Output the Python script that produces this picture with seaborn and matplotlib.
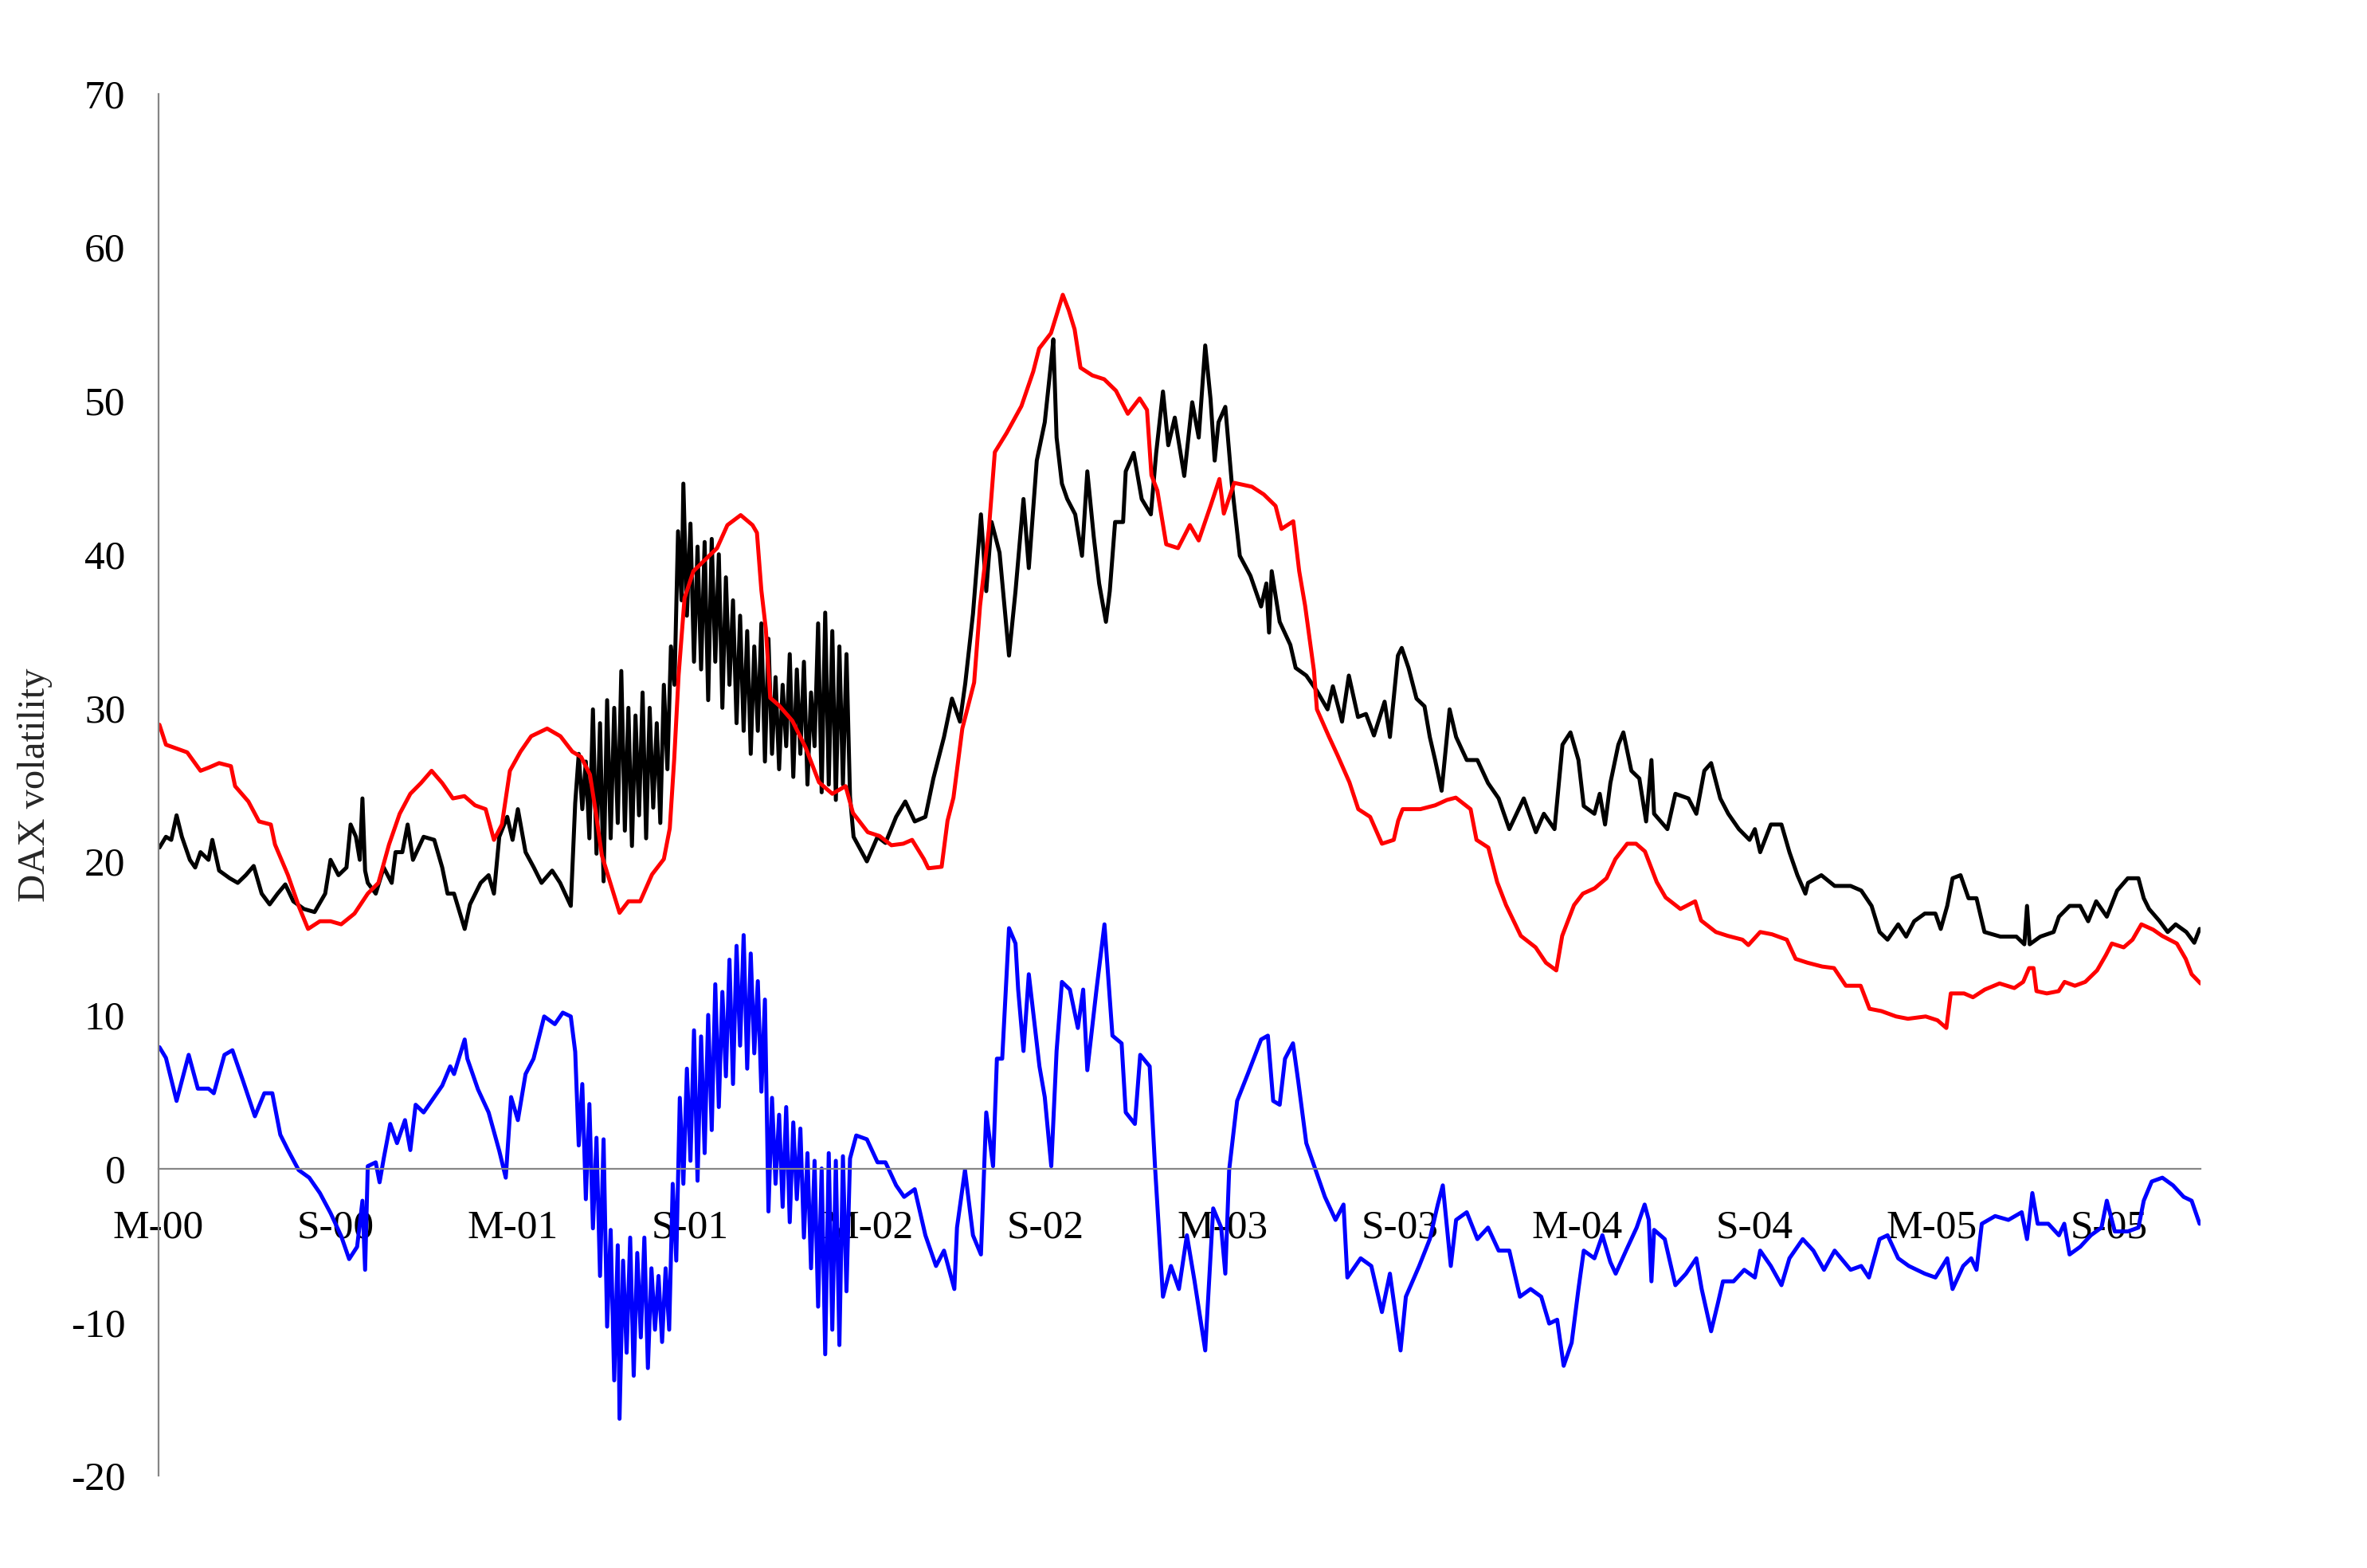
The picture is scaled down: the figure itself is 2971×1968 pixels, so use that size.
import pandas as pd
import matplotlib.pyplot as plt
import seaborn as sns

# x = months since March 2000
tick_pos = [0, 6, 12, 18, 24, 30, 36, 42, 48, 54, 60, 66]
tick_labels = ['M-00', 'S-00', 'M-01', 'S-01', 'M-02', 'S-02',
               'M-03', 'S-03', 'M-04', 'S-04', 'M-05', 'S-05']
y_ticks = [-20, -10, 0, 10, 20, 30, 40, 50, 60, 70]

# black series (implied volatility)
black_pts = [
    (0.03, 20.9), (0.25, 21.6), (0.43, 21.4), (0.61, 23.0), (0.79, 21.6), (1.06, 20.1),
    (1.24, 19.6), (1.42, 20.6), (1.69, 20.1), (1.82, 21.4), (2.05, 19.4), (2.41, 18.9),
    (2.68, 18.6), (2.95, 19.1), (3.22, 19.7), (3.49, 17.9), (3.76, 17.2), (4.03, 17.9),
    (4.29, 18.5), (4.56, 17.4), (4.92, 16.9), (5.28, 16.7), (5.64, 17.9), (5.82, 20.1),
    (6.09, 19.1), (6.36, 19.6), (6.50, 22.4), (6.68, 21.6), (6.81, 20.1), (6.90, 24.1),
    (6.99, 19.4), (7.08, 18.6), (7.35, 17.9), (7.62, 19.6), (7.89, 18.6), (8.02, 20.6),
    (8.25, 20.6), (8.43, 22.4), (8.61, 20.1), (8.97, 21.6), (9.33, 21.4), (9.60, 19.6),
    (9.78, 17.9), (10.0, 17.9), (10.36, 15.6), (10.54, 17.2), (10.90, 18.6), (11.17, 19.1),
    (11.35, 17.9), (11.53, 21.6), (11.80, 22.9), (11.98, 21.4), (12.16, 23.4), (12.42, 20.6),
    (12.70, 19.6), (12.96, 18.6), (13.32, 19.4), (13.59, 18.6), (13.95, 17.1),
    (14.10, 23.8), (14.22, 27.0), (14.34, 23.4), (14.46, 26.5), (14.58, 21.5), (14.70, 29.9),
    (14.82, 20.5), (14.94, 29.0), (15.06, 18.7), (15.18, 30.5), (15.30, 21.5), (15.42, 30.0),
    (15.54, 22.5), (15.66, 32.4), (15.78, 22.0), (15.90, 30.0), (16.02, 21.0), (16.14, 29.5),
    (16.26, 23.0), (16.38, 31.0), (16.50, 21.5), (16.62, 30.0), (16.74, 23.5), (16.86, 29.0),
    (16.98, 22.5), (17.10, 31.5), (17.22, 26.0), (17.34, 34.0), (17.46, 31.5), (17.58, 41.5),
    (17.70, 37.0), (17.76, 44.6), (17.88, 36.0), (18.00, 42.0), (18.12, 33.0), (18.24, 40.5),
    (18.36, 32.5), (18.48, 40.8), (18.60, 30.5), (18.72, 41.0), (18.84, 33.0), (18.96, 40.0),
    (19.08, 30.0), (19.20, 38.5), (19.32, 31.5), (19.44, 37.0), (19.56, 29.0), (19.68, 36.0),
    (19.80, 28.5), (19.92, 35.0), (20.04, 27.0), (20.16, 34.0), (20.28, 28.5), (20.40, 35.5),
    (20.52, 26.5), (20.64, 34.5), (20.76, 27.0), (20.88, 32.0), (21.00, 26.0), (21.12, 31.5),
    (21.24, 27.5), (21.36, 33.5), (21.48, 25.5), (21.60, 32.5), (21.72, 27.0), (21.84, 33.0),
    (21.96, 25.0), (22.08, 31.0), (22.20, 27.5), (22.32, 35.5), (22.44, 24.5), (22.56, 36.2),
    (22.68, 25.0), (22.80, 35.0), (22.92, 24.0), (23.04, 34.0), (23.16, 25.0), (23.28, 33.5),
    (23.40, 24.2), (23.52, 21.6), (23.97, 20.0), (24.33, 21.6), (24.60, 21.2), (24.96, 22.9),
    (25.27, 23.9), (25.59, 22.6), (25.95, 22.9), (26.22, 25.4), (26.58, 28.1), (26.85, 30.6),
    (27.12, 29.1), (27.30, 31.6), (27.56, 36.1), (27.83, 42.6), (28.01, 37.6), (28.19, 42.1),
    (28.46, 40.1), (28.78, 33.4), (29.00, 37.6), (29.27, 43.6), (29.45, 39.1), (29.72, 46.1),
    (29.99, 48.6), (30.21, 52.6), (30.28, 54.0), (30.39, 47.6), (30.57, 44.6), (30.75, 43.6),
    (31.02, 42.6), (31.25, 39.9), (31.43, 45.4), (31.65, 41.1), (31.83, 38.1), (32.06, 35.6),
    (32.19, 37.6), (32.37, 42.1), (32.64, 42.1), (32.73, 45.4), (33.00, 46.6), (33.27, 43.6),
    (33.58, 42.6), (33.76, 46.6), (33.99, 50.6), (34.17, 47.1), (34.39, 48.9), (34.71, 45.1),
    (34.98, 49.9), (35.20, 47.6), (35.42, 53.6), (35.60, 50.1), (35.74, 46.1), (35.87, 48.6),
    (36.10, 49.6), (36.32, 44.6), (36.59, 39.9), (36.95, 38.6), (37.31, 36.6), (37.49, 38.1),
    (37.58, 34.9), (37.67, 38.9), (37.94, 35.6), (38.30, 34.1), (38.48, 32.6), (38.84, 32.1),
    (39.20, 31.1), (39.56, 29.9), (39.74, 31.4), (40.05, 29.1), (40.28, 32.1), (40.59, 29.4),
    (40.86, 29.6), (41.13, 28.2), (41.49, 30.4), (41.67, 28.1), (41.94, 33.4), (42.07, 33.9),
    (42.30, 32.6), (42.57, 30.6), (42.84, 30.1), (43.02, 28.1), (43.20, 26.6), (43.42, 24.6),
    (43.69, 29.9), (43.91, 28.1), (44.27, 26.6), (44.63, 26.6), (44.99, 25.1), (45.35, 24.1),
    (45.71, 22.1), (46.20, 24.1), (46.61, 21.9), (46.88, 23.1), (47.24, 22.1), (47.51, 27.6),
    (47.78, 28.4), (48.05, 26.6), (48.23, 23.6), (48.59, 23.1), (48.77, 24.4), (48.95, 22.4),
    (49.13, 25.1), (49.40, 27.6), (49.57, 28.4), (49.84, 25.9), (50.11, 25.4), (50.34, 22.6),
    (50.52, 26.6), (50.61, 23.1), (51.06, 22.1), (51.33, 24.4), (51.77, 24.1), (52.04, 23.1),
    (52.31, 25.9), (52.54, 26.4), (52.85, 24.1), (53.12, 23.1), (53.48, 22.1), (53.84, 21.4),
    (54.02, 22.1), (54.20, 20.6), (54.56, 22.4), (54.92, 22.4), (55.19, 20.6), (55.46, 19.1),
    (55.73, 17.9), (55.82, 18.6), (56.27, 19.1), (56.72, 18.4), (57.26, 18.4), (57.62, 18.1),
    (57.97, 17.1), (58.24, 15.4), (58.51, 14.9), (58.87, 15.9), (59.14, 15.1), (59.41, 16.1),
    (59.77, 16.6), (60.13, 16.6), (60.31, 15.6), (60.53, 17.1), (60.71, 18.9), (60.98, 19.1),
    (61.25, 17.6), (61.52, 17.6), (61.79, 15.4), (62.33, 15.1), (62.87, 15.1), (63.14, 14.6),
    (63.23, 17.1), (63.32, 14.6), (63.68, 15.1), (64.13, 15.4), (64.31, 16.4), (64.67, 17.1),
    (65.03, 17.1), (65.30, 16.1), (65.57, 17.4), (65.93, 16.4), (66.28, 18.1), (66.64, 18.9),
    (67.00, 18.9), (67.18, 17.6), (67.36, 16.9), (67.72, 16.1), (67.99, 15.4), (68.26, 15.9),
    (68.62, 15.4), (68.89, 14.7), (69.07, 15.6),
]

# red series (historical volatility)
red_pts = [
    (0.03, 28.9), (0.25, 27.6), (0.97, 27.1), (1.42, 25.9), (1.69, 26.1), (2.05, 26.4),
    (2.45, 26.2), (2.59, 24.9), (3.04, 23.9), (3.40, 22.6), (3.80, 22.4), (3.94, 21.1),
    (4.38, 19.1), (4.74, 17.1), (5.06, 15.6), (5.46, 16.1), (5.82, 16.1), (6.18, 15.9),
    (6.63, 16.6), (7.08, 17.9), (7.44, 18.6), (7.80, 21.1), (8.16, 23.1), (8.52, 24.4),
    (8.88, 25.1), (9.24, 25.9), (9.60, 25.1), (9.96, 24.1), (10.35, 24.25), (10.71, 23.65),
    (11.07, 23.4), (11.35, 21.4), (11.62, 22.4), (11.89, 25.9), (12.25, 27.15), (12.61, 28.15),
    (13.15, 28.65), (13.60, 28.15), (14.00, 27.15), (14.30, 26.8), (14.60, 25.65), (14.80, 23.15),
    (15.00, 20.4), (15.20, 19.15), (15.60, 16.65), (15.90, 17.4), (16.30, 17.4), (16.70, 19.15),
    (17.10, 20.15), (17.30, 22.15), (17.45, 26.65), (17.60, 32.15), (17.80, 37.15), (18.10, 38.9),
    (18.50, 39.65), (18.90, 40.4), (19.25, 41.9), (19.70, 42.55), (20.10, 41.9), (20.25, 41.4),
    (20.40, 37.65), (20.55, 35.15), (20.70, 30.65), (21.00, 30.15), (21.45, 29.15), (21.90, 27.4),
    (22.35, 25.15), (22.80, 24.4), (23.25, 24.9), (23.50, 23.15), (24.00, 21.9), (24.40, 21.65),
    (24.80, 21.05), (25.20, 21.15), (25.50, 21.4), (25.90, 20.15), (26.05, 19.55), (26.50, 19.65),
    (26.70, 22.65), (26.90, 24.15), (27.20, 28.65), (27.60, 31.65), (27.80, 36.65), (28.10, 41.65),
    (28.30, 46.65), (28.70, 47.9), (29.20, 49.65), (29.60, 51.9), (29.80, 53.4), (30.20, 54.4),
    (30.60, 56.9), (30.80, 55.9), (31.00, 54.65), (31.20, 52.15), (31.60, 51.65), (32.00, 51.4),
    (32.40, 50.65), (32.80, 49.15), (33.20, 50.15), (33.45, 49.4), (33.60, 45.15), (33.80, 44.15),
    (34.10, 40.65), (34.50, 40.4), (34.90, 41.9), (35.20, 40.9), (35.60, 43.15), (35.90, 44.9),
    (36.05, 42.65), (36.40, 44.65), (37.00, 44.4), (37.40, 43.9), (37.80, 43.15), (38.00, 41.65),
    (38.40, 42.15), (38.60, 38.9), (38.80, 36.65), (39.10, 32.4), (39.20, 29.9), (39.60, 28.15),
    (39.90, 26.9), (40.30, 25.15), (40.60, 23.4), (41.00, 22.9), (41.40, 21.15), (41.80, 21.4),
    (41.95, 22.65), (42.10, 23.4), (42.70, 23.4), (43.20, 23.65), (43.60, 24.0), (43.90, 24.15),
    (44.40, 23.4), (44.60, 21.4), (45.00, 20.9), (45.30, 18.65), (45.60, 17.15), (46.10, 15.15),
    (46.60, 14.4), (46.95, 13.4), (47.30, 12.9), (47.50, 15.15), (47.90, 17.15), (48.20, 17.9),
    (48.60, 18.25), (49.00, 18.9), (49.30, 20.15), (49.70, 21.15), (50.00, 21.15), (50.30, 20.65),
    (50.70, 18.65), (51.00, 17.65), (51.50, 16.9), (52.00, 17.4), (52.20, 16.15), (52.70, 15.4),
    (53.10, 15.15), (53.60, 14.9), (53.80, 14.55), (54.20, 15.4), (54.60, 15.25), (55.10, 14.9),
    (55.40, 13.65), (55.80, 13.4), (56.30, 13.15), (56.70, 13.05), (57.10, 11.9), (57.60, 11.9),
    (57.90, 10.4), (58.30, 10.25), (58.80, 9.9), (59.20, 9.75), (59.80, 9.9), (60.20, 9.65),
    (60.50, 9.15), (60.65, 11.4), (61.10, 11.4), (61.40, 11.15), (61.80, 11.65), (62.30, 12.05),
    (62.80, 11.75), (63.10, 12.15), (63.30, 13.05), (63.45, 13.05), (63.55, 11.55), (63.90, 11.4),
    (64.30, 11.55), (64.50, 12.15), (64.85, 11.9), (65.20, 12.15), (65.60, 12.9), (65.90, 13.9),
    (66.10, 14.65), (66.50, 14.4), (66.80, 14.9), (67.10, 15.9), (67.50, 15.55), (67.80, 15.15),
    (68.30, 14.65), (68.60, 13.65), (68.80, 12.65), (69.10, 12.05),
]

# blue series (spread)
blue_pts = [
    (0.03, 7.9), (0.25, 7.2), (0.61, 4.4), (1.02, 7.4), (1.33, 5.2), (1.69, 5.2),
    (1.87, 4.9), (2.23, 7.4), (2.50, 7.7), (2.86, 5.7), (3.26, 3.4), (3.58, 4.9),
    (3.85, 4.9), (4.12, 2.2), (4.38, 1.2), (4.74, -0.1), (5.10, -0.6), (5.46, -1.6),
    (5.82, -2.9), (6.18, -4.4), (6.45, -5.9), (6.72, -5.1), (6.90, -2.1), (6.99, -6.6),
    (7.08, 0.15), (7.35, 0.4), (7.48, -0.9), (7.62, 0.65), (7.84, 2.9), (8.07, 1.65),
    (8.34, 3.15), (8.52, 1.2), (8.70, 4.15), (8.97, 3.65), (9.33, 4.65), (9.60, 5.4),
    (9.87, 6.65), (10.0, 6.15), (10.36, 8.4), (10.45, 7.15), (10.81, 5.15), (11.17, 3.65),
    (11.53, 1.15), (11.75, -0.6), (11.93, 4.65), (12.16, 3.15), (12.42, 6.15), (12.69, 7.15),
    (13.05, 9.9), (13.41, 9.4), (13.68, 10.15), (13.95, 9.9),
    (14.10, 7.6), (14.22, 1.5), (14.34, 5.5), (14.46, -2.0), (14.58, 4.2), (14.70, -3.9),
    (14.82, 2.0), (14.94, -7.0), (15.06, 1.9), (15.18, -10.3), (15.30, -4.0), (15.42, -13.8),
    (15.54, -5.0), (15.60, -16.3), (15.72, -6.0), (15.84, -12.0), (15.96, -4.5), (16.08, -13.5),
    (16.20, -5.5), (16.32, -11.0), (16.44, -4.5), (16.56, -13.0), (16.68, -6.5), (16.80, -10.5),
    (16.92, -7.0), (17.04, -11.3), (17.16, -6.5), (17.28, -10.5), (17.40, -1.0), (17.52, -6.0),
    (17.64, 4.6), (17.76, -1.0), (17.88, 6.5), (18.00, 0.5), (18.12, 9.0), (18.24, -0.8),
    (18.36, 8.6), (18.48, 1.0), (18.60, 10.0), (18.72, 2.5), (18.84, 12.0), (18.96, 4.0),
    (19.08, 11.5), (19.20, 6.0), (19.32, 13.6), (19.44, 5.5), (19.56, 14.5), (19.68, 8.0),
    (19.80, 15.2), (19.92, 6.5), (20.04, 14.0), (20.16, 7.5), (20.28, 12.2), (20.40, 5.0),
    (20.52, 11.0), (20.64, -2.8), (20.76, 4.6), (20.88, -1.0), (21.00, 3.5), (21.12, -2.5),
    (21.24, 4.0), (21.36, -3.5), (21.48, 3.0), (21.60, -2.0), (21.72, 2.6), (21.84, -4.5),
    (21.96, 1.0), (22.08, -6.5), (22.20, 0.5), (22.32, -9.0), (22.44, 0.0), (22.56, -12.1),
    (22.68, 1.0), (22.80, -10.5), (22.92, 0.5), (23.04, -11.5), (23.16, 0.8), (23.28, -8.0),
    (23.40, 0.65), (23.61, 2.15), (23.97, 1.9), (24.33, 0.4), (24.60, 0.4), (24.96, -1.1),
    (25.23, -1.85), (25.59, -1.35), (25.95, -4.35), (26.31, -6.35), (26.58, -5.35), (26.93, -7.85),
    (27.02, -3.85), (27.29, -0.1), (27.56, -4.35), (27.83, -5.6), (28.01, 3.65), (28.24, 0.15),
    (28.37, 7.15), (28.55, 7.15), (28.78, 15.65), (29.00, 14.65), (29.09, 11.65), (29.27, 7.65),
    (29.45, 12.65), (29.63, 9.65), (29.81, 6.65), (29.99, 4.65), (30.21, 0.15), (30.39, 7.65),
    (30.57, 12.15), (30.84, 11.65), (31.11, 9.15), (31.29, 11.65), (31.43, 6.4), (31.74, 11.65),
    (32.01, 15.9), (32.28, 8.65), (32.59, 8.15), (32.73, 3.65), (33.04, 2.9), (33.22, 7.4),
    (33.54, 6.65), (33.72, 0.15), (33.99, -8.35), (34.26, -6.35), (34.53, -7.85), (34.80, -4.35),
    (35.06, -7.35), (35.42, -11.85), (35.69, -2.6), (35.96, -3.85), (36.10, -6.85), (36.23, -0.1),
    (36.50, 4.4), (36.86, 6.15), (37.31, 8.4), (37.54, 8.65), (37.72, 4.4), (37.94, 4.15),
    (38.12, 7.15), (38.39, 8.15), (38.57, 5.65), (38.84, 1.65), (39.20, -0.35), (39.47, -1.85),
    (39.83, -3.35), (40.10, -2.35), (40.23, -7.1), (40.68, -5.85), (41.04, -6.35), (41.40, -9.35),
    (41.67, -6.85), (42.03, -11.85), (42.21, -8.35), (42.66, -6.35), (43.02, -4.6), (43.29, -2.35),
    (43.46, -1.1), (43.73, -6.35), (43.91, -3.35), (44.27, -2.85), (44.63, -4.6), (44.99, -3.85),
    (45.35, -5.35), (45.71, -5.35), (46.07, -8.35), (46.43, -7.85), (46.79, -8.35), (47.06, -10.1),
    (47.33, -9.85), (47.55, -12.85), (47.82, -11.35), (48.05, -7.85), (48.23, -5.35), (48.59, -5.85),
    (48.86, -4.35), (49.13, -6.1), (49.31, -6.85), (49.66, -5.35), (50.02, -3.85), (50.29, -2.35),
    (50.43, -3.35), (50.52, -7.35), (50.61, -4.0), (50.97, -4.6), (51.33, -7.6), (51.69, -6.85),
    (52.04, -5.85), (52.22, -7.85), (52.54, -10.6), (52.76, -8.85), (52.94, -7.35), (53.30, -7.35),
    (53.66, -6.6), (54.02, -7.1), (54.20, -5.35), (54.56, -6.35), (54.92, -7.6), (55.19, -5.85),
    (55.64, -4.6), (56.00, -5.35), (56.36, -6.6), (56.72, -5.35), (57.26, -6.6), (57.62, -6.35),
    (57.88, -7.1), (58.24, -4.6), (58.51, -4.35), (58.87, -5.85), (59.23, -6.35), (59.77, -6.85),
    (60.13, -7.1), (60.53, -5.85), (60.71, -7.85), (61.07, -6.35), (61.34, -5.85), (61.52, -6.6),
    (61.70, -3.6), (62.15, -3.1), (62.60, -3.35), (63.05, -2.85), (63.23, -4.6), (63.41, -1.6),
    (63.59, -3.6), (63.95, -3.6), (64.31, -4.35), (64.49, -3.6), (64.67, -5.6), (65.03, -5.1),
    (65.39, -4.35), (65.75, -3.85), (65.93, -2.1), (66.20, -4.1), (66.64, -4.1), (67.00, -3.85),
    (67.18, -2.1), (67.45, -0.85), (67.81, -0.6), (68.17, -1.1), (68.53, -1.85), (68.80, -2.1),
    (69.07, -3.6),
]

frames = []
for name, pts in [('black', black_pts), ('red', red_pts), ('blue', blue_pts)]:
    d = pd.DataFrame(pts, columns=['month', 'value'])
    d['series'] = name
    frames.append(d)
df = pd.concat(frames, ignore_index=True)

sns.set_style('white')
plt.rcParams['font.family'] = ['Liberation Serif', 'DejaVu Serif']
plt.rcParams['axes.unicode_minus'] = False

W, H = 2971, 1968
fig = plt.figure(figsize=(W / 100, H / 100), dpi=100)
ax = fig.add_axes([199 / W, 1 - 1852 / H, (2762 - 199) / W, (1852 - 117.5) / H])

sns.lineplot(data=df, x='month', y='value', hue='series',
             hue_order=['black', 'red', 'blue'],
             palette={'black': '#000000', 'red': '#FF0000', 'blue': '#0000FF'},
             estimator=None, sort=False, legend=False, linewidth=3.6, ax=ax)

ax.set_xlim(0, 69.1)
ax.set_ylim(-20, 70)
ax.set_xticks(tick_pos)
ax.set_xticklabels(tick_labels)
ax.set_yticks(y_ticks)
ax.tick_params(axis='both', length=0, labelsize=37, colors='black')
ax.tick_params(axis='x', pad=37)
ax.tick_params(axis='y', pad=30)

for s in ['top', 'right']:
    ax.spines[s].set_visible(False)
ax.spines['bottom'].set_position(('data', 0))
for s in ['left', 'bottom']:
    ax.spines[s].set_color('#868686')
    ax.spines[s].set_linewidth(1.6)

ax.set_xlabel('')
ax.set_ylabel('DAX volatility', fontsize=35)
ax.yaxis.set_label_coords(-0.052, 0.5)
ax.grid(False)

plt.savefig('out.png', dpi=100)
